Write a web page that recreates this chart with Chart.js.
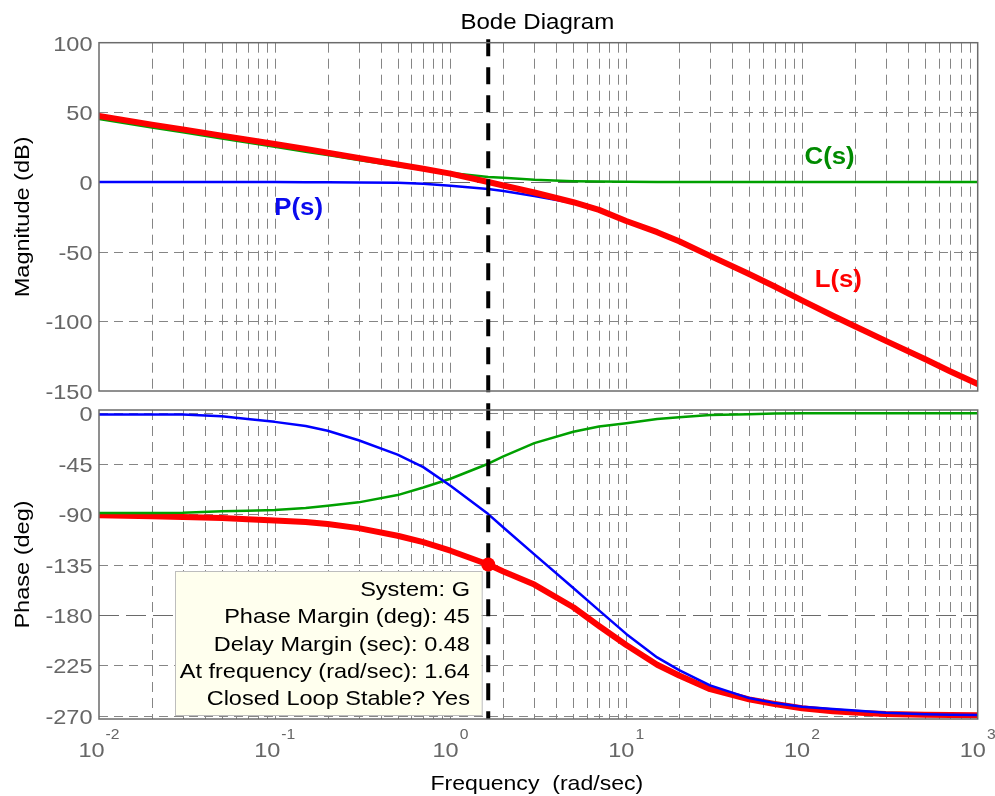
<!DOCTYPE html>
<html>
<head>
<meta charset="utf-8">
<title>Bode Diagram</title>
<script src="https://cdn.jsdelivr.net/npm/chart.js@4.4.1/dist/chart.umd.min.js"></script>
<style>
  html, body { margin: 0; padding: 0; background: #ffffff; }
  #wrap { position: relative; width: 995px; height: 796px; overflow: hidden; }
  canvas { position: absolute; left: 0; }
  #mag { top: 0; }
  #phase { top: 401px; }
</style>
</head>
<body>
<div id="wrap">
  <canvas id="mag" width="995" height="401"></canvas>
  <canvas id="phase" width="995" height="395"></canvas>
</div>
<script>
// Frequency samples (rad/sec)
const freqs = [0.01, 0.02, 0.03, 0.05, 0.07, 0.1, 0.15, 0.2, 0.3, 0.5, 0.7, 1, 1.64, 2, 3, 5, 7, 10,
               15, 20, 30, 50, 70, 100, 150, 200, 300, 500, 700, 1000];

// Magnitude (dB)
const magP = [0, 0, 0, 0, 0, 0, -0.1, -0.2, -0.3, -0.6, -1.2, -2.6, -5, -6.5, -10, -15, -20.5, -28.5,
              -36.5, -43, -53.5, -66.5, -75.5, -85.5, -96.5, -104, -114.5, -127.5, -136.5, -145.5];
const magC = [45.2, 39.2, 35.8, 31.3, 28.4, 25.3, 21.8, 19.3, 15.8, 11.5, 8.8, 6.5, 3.6, 3, 1.6, 0.6, 0.3, 0.15,
              0, 0, 0, 0, 0, 0, 0, 0, 0, 0, 0, 0];
const magL = [47.4, 41.2, 37.8, 33.3, 30.4, 27.3, 23.8, 21, 17.3, 12.6, 9.5, 6, 0, -2.5, -7.5, -14.5, -20, -28,
              -36, -42.5, -53, -66, -75, -85, -96, -103.5, -114, -127, -136, -145];

// Phase (deg)
const phaseP = [-1, -1, -1, -2.5, -5, -7.6, -11.3, -15.5, -24, -36.8, -48, -64.7, -90, -102, -126, -156, -176, -197,
                -218, -229.4, -243, -254.3, -258.8, -262, -264.1, -265.5, -267.5, -268.7, -269.2, -269.5];
const phaseC = [-89, -89, -88.8, -87.5, -87, -86.3, -84.5, -82.5, -79.5, -73, -66.2, -58.4, -45, -38.4, -26.6, -16.4, -11.7, -8.8,
                -5.1, -3.5, -1.5, -0.8, -0.2, 0, 0, 0, 0, 0, 0, 0];
const phaseL = [-91, -92, -92.5, -93.5, -94.5, -95.6, -97, -98.8, -102.5, -109.3, -115, -122.7, -135, -141.2, -152.9, -173.2, -189.9, -206.9,
                -224.5, -234.2, -246.4, -255.5, -259.6, -263.4, -266, -267.3, -268.6, -269.2, -269.4, -269.6];

// Axis ticks
const magTicks = [100, 50, 0, -50, -100, -150];
const phaseTicks = [0, -45, -90, -135, -180, -225, -270];
const decadeExps = [-2, -1, 0, 1, 2, 3];

// Stability margins of the loop
const systemName = 'G';
const crossoverFreq = 1.64;
const phaseMargin = 45;
const delayMargin = 0.48;
const closedLoopStable = 'Yes';

const infoLines = [
  `System: ${systemName}`,
  `Phase Margin (deg): ${phaseMargin}`,
  `Delay Margin (sec): ${delayMargin}`,
  `At frequency (rad/sec): ${crossoverFreq}`,
  `Closed Loop Stable? ${closedLoopStable}`
];

// ---------------------------------------------------------------------------
const FONT = "'Liberation Sans', Arial, Helvetica, sans-serif";
const SX = 1.12;                 // horizontal text stretch
const TICK_COLOR = '#666666';
const GRID_COLOR = '#858585';

const gridFreqs = [];
for (let e = -2; e < 3; e++) for (let m = 1; m < 10; m++) gridFreqs.push(m * Math.pow(10, e));

const pts = (ys) => freqs.map((f, i) => ({ x: f, y: ys[i] }));

function txt(ctx, s, x, y, o) {
  ctx.save();
  ctx.translate(x, y);
  if (o.rot) ctx.rotate(o.rot);
  ctx.scale(o.sx || SX, 1);
  ctx.font = o.font;
  ctx.fillStyle = o.color || '#000';
  ctx.textAlign = o.align || 'left';
  ctx.textBaseline = o.baseline || 'alphabetic';
  ctx.fillText(s, 0, 0);
  ctx.restore();
}

function drawGrid(chart, yTicks, specialY) {
  const { ctx, chartArea: a, scales: { x, y } } = chart;
  ctx.save();
  ctx.lineWidth = 1;
  ctx.strokeStyle = GRID_COLOR;
  ctx.setLineDash([10, 6]);
  gridFreqs.forEach(f => {
    const px = Math.round(x.getPixelForValue(f)) + 0.5;
    if (px <= a.left + 1.5 || px >= a.right - 1.5) return;
    ctx.beginPath(); ctx.moveTo(px, a.top); ctx.lineTo(px, a.bottom); ctx.stroke();
  });
  ctx.setLineDash([9, 6]);
  yTicks.forEach(v => {
    if (v === specialY) return;
    const py = Math.round(y.getPixelForValue(v)) + 0.5;
    if (py <= a.top + 1.5 || py >= a.bottom - 1.5) return;
    ctx.beginPath(); ctx.moveTo(a.left, py); ctx.lineTo(a.right, py); ctx.stroke();
  });
  // reference line (0 dB / -180 deg)
  const sy = Math.round(y.getPixelForValue(specialY)) + 0.5;
  ctx.strokeStyle = '#6a6a6a';
  ctx.setLineDash([20, 7]);
  ctx.beginPath(); ctx.moveTo(a.left, sy); ctx.lineTo(a.right, sy); ctx.stroke();
  ctx.restore();
}

function drawFrame(chart) {
  const { ctx, chartArea: a } = chart;
  ctx.save();
  ctx.strokeStyle = '#6b6b6b';
  ctx.lineWidth = 1.5;
  ctx.setLineDash([]);
  ctx.strokeRect(a.left, a.top, a.right - a.left, a.bottom - a.top);
  ctx.restore();
}

const CROSS_TOP = 39.3;   // page y where the crossover marker line begins
function drawCrossLine(chart, canvasTop, toCanvasBottom) {
  const { ctx, chartArea: a, scales: { x } } = chart;
  const px = x.getPixelForValue(crossoverFreq);
  const top = Math.max(0, CROSS_TOP - canvasTop);
  const bottom = toCanvasBottom ? chart.height : a.bottom;
  ctx.save();
  ctx.strokeStyle = '#000';
  ctx.lineWidth = 4;
  ctx.lineCap = 'butt';
  ctx.setLineDash([17, 11]);
  ctx.lineDashOffset = (canvasTop + top) - CROSS_TOP;
  ctx.beginPath(); ctx.moveTo(px, top); ctx.lineTo(px, bottom); ctx.stroke();
  ctx.restore();
}

function drawYTicks(chart, ticks) {
  const { ctx, chartArea: a, scales: { y } } = chart;
  ticks.forEach(v => {
    txt(ctx, String(v), a.left - 6.5, y.getPixelForValue(v) + 8,
        { font: `21px ${FONT}`, color: TICK_COLOR, align: 'right' });
  });
}

function drawYTitle(chart, s) {
  const { ctx, chartArea: a } = chart;
  txt(ctx, s, 28.5, (a.top + a.bottom) / 2,
      { font: `21px ${FONT}`, color: '#000', align: 'center', rot: -Math.PI / 2 });
}

function drawInfo(chart) {
  const { ctx, scales: { x, y } } = chart;
  const mx = x.getPixelForValue(crossoverFreq);
  const my = y.getPixelForValue(-180 + phaseMargin);
  const right = mx - 6.6, top = my + 6.7, w = 306.7, h = 144;
  ctx.save();
  ctx.fillStyle = 'rgb(255,255,238)';
  ctx.fillRect(right - w, top, w, h);
  ctx.strokeStyle = '#bdbdbd';
  ctx.lineWidth = 1;
  ctx.strokeRect(Math.round(right - w) + 0.5, Math.round(top) + 0.5, w, h);
  ctx.restore();
  infoLines.forEach((s, i) => {
    txt(ctx, s, right - 11.7, top + 25 + i * 27.2, { font: `21px ${FONT}`, color: '#000', align: 'right' });
  });
}

// Curve label positions in data coordinates
const magLabels = [
  { text: 'P(s)', f: 0.1368, v: -23.7, color: '#0a0aee' },
  { text: 'C(s)', f: 143.6, v: 12.9, color: '#008a00' },
  { text: 'L(s)', f: 160.9, v: -75.6, color: '#ff0000' }
];

const lineDs = (label, data, color, width) => ({
  label, data, borderColor: color, backgroundColor: color, borderWidth: width,
  pointRadius: 0, pointHoverRadius: 0, showLine: true, tension: 0,
  borderJoinStyle: 'round', borderCapStyle: 'round', fill: false
});

const commonOpts = (yMin, yMax, pad) => ({
  responsive: false,
  animation: false,
  devicePixelRatio: 1,
  layout: { padding: pad },
  plugins: { legend: { display: false }, tooltip: { enabled: false }, title: { display: false } },
  events: [],
  scales: {
    x: { type: 'logarithmic', min: 0.01, max: 1000, display: false },
    y: { type: 'linear', min: yMin, max: yMax, display: false }
  }
});

// ---- Magnitude panel
new Chart(document.getElementById('mag'), {
  type: 'scatter',
  data: {
    datasets: [
      lineDs('L(s)', pts(magL), '#ff0000', 6),
      lineDs('C(s)', pts(magC), '#00a000', 2.5),
      lineDs('P(s)', pts(magP), '#0000ff', 2.5)
    ]
  },
  options: commonOpts(-150, 100, { left: 99, right: 17.3, top: 42.7, bottom: 10 }),
  plugins: [{
    id: 'magDecor',
    beforeDatasetsDraw(chart) { drawGrid(chart, magTicks, 0); },
    afterDatasetsDraw(chart) { drawCrossLine(chart, 0, true); drawFrame(chart); },
    afterDraw(chart) {
      const { ctx, chartArea: a, scales: { x, y } } = chart;
      drawYTicks(chart, magTicks);
      drawYTitle(chart, 'Magnitude (dB)');
      txt(ctx, 'Bode Diagram', (a.left + a.right) / 2 - 1, 29.3,
          { font: `21.5px ${FONT}`, color: '#000', align: 'center' });
      magLabels.forEach(l => {
        txt(ctx, l.text, x.getPixelForValue(l.f), y.getPixelForValue(l.v),
            { font: `bold 23px ${FONT}`, color: l.color, align: 'center' });
      });
    }
  }]
});

// ---- Phase panel
const MARKER_INDEX = 0;
new Chart(document.getElementById('phase'), {
  type: 'scatter',
  data: {
    datasets: [
      {
        label: 'margin', data: [{ x: crossoverFreq, y: -180 + phaseMargin }],
        pointRadius: 7, pointHoverRadius: 7, backgroundColor: '#ff0000', borderColor: '#ff0000',
        borderWidth: 0, showLine: false
      },
      lineDs('P(s)', pts(phaseP), '#0000ff', 2.5),
      lineDs('C(s)', pts(phaseC), '#00a000', 2.5),
      lineDs('L(s)', pts(phaseL), '#ff0000', 6)
    ]
  },
  options: commonOpts(-273, 3, { left: 99, right: 17.3, top: 9, bottom: 77 }),
  plugins: [{
    id: 'phaseDecor',
    beforeDatasetsDraw(chart) { drawGrid(chart, phaseTicks, -180); },
    beforeDatasetDraw(chart, args) { if (args.index === MARKER_INDEX) drawCrossLine(chart, 401, false); },
    afterDatasetsDraw(chart) { drawInfo(chart); drawFrame(chart); },
    afterDraw(chart) {
      const { ctx, chartArea: a, scales: { x } } = chart;
      drawYTicks(chart, phaseTicks);
      drawYTitle(chart, 'Phase (deg)');
      // decade labels 10^k
      decadeExps.forEach(k => {
        const base = '10', sup = String(k);
        const cx = x.getPixelForValue(Math.pow(10, k));
        ctx.save();
        ctx.font = `21px ${FONT}`;
        const wb = ctx.measureText(base).width * SX;
        ctx.font = `14px ${FONT}`;
        const ws = ctx.measureText(sup).width * SX;
        ctx.restore();
        const left = cx - (wb + ws + 1) / 2;
        txt(ctx, base, left, a.bottom + 37.7, { font: `21px ${FONT}`, color: TICK_COLOR });
        txt(ctx, sup, left + wb + 1, a.bottom + 20.3, { font: `14px ${FONT}`, color: TICK_COLOR });
      });
      txt(ctx, 'Frequency  (rad/sec)', (a.left + a.right) / 2 - 1.5, a.bottom + 70.5,
          { font: `20.6px ${FONT}`, color: '#000', align: 'center' });
    }
  }]
});
</script>
</body>
</html>
